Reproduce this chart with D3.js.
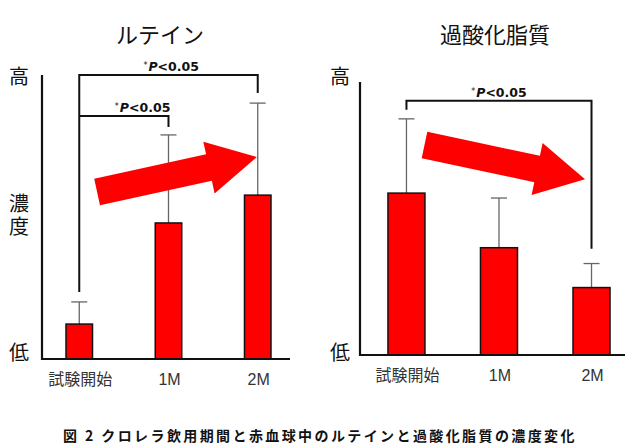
<!DOCTYPE html>
<html>
<head>
<meta charset="utf-8">
<script src="https://cdn.jsdelivr.net/npm/d3@7"></script>
<style>
  body { margin: 0; background: #fff; }
  text { font-family: "Noto Sans CJK JP", "Noto Sans", sans-serif; }
</style>
</head>
<body>
<div id="chart"></div>
<script>
// categories on the x axis (same for both panels)
const categories = ["試験開始", "1M", "2M"];

// relative concentration (0 = 低, 100 = 高)
const luteinValues = [12.3, 47.9, 57.7];
const luteinErrTop = [20.1, 78.9, 90.1];
const peroxValues = [59.3, 39.3, 24.7];
const peroxErrTop = [86.5, 57.5, 33.5];

// significance brackets: from / to category index, level, leg ends
const luteinBrackets = [
    {from: 0, to: 2, level: 100, legFrom: 23.6, legTo: 93.7, labelAt: 1.03},
    {from: 0, to: 1, level: 85.6, legFrom: 85.6, legTo: 81.7, labelAt: 0.71}
];
const peroxBrackets = [
    {from: 0, to: 2, level: 93.1, legFrom: 89.8, legTo: 38.9, labelAt: 1.0}
];

// trend arrows, in (category index, value)
const luteinArrow = {x0: 0.2, y0: 58.8, x1: 1.99, y1: 71.1};
const peroxArrow = {x0: 0.195, y0: 76.9, x1: 1.93, y1: 64.4};

const width = 630, height = 447;

const svg = d3.select("#chart").append("svg")
    .attr("width", width)
    .attr("height", height);

const panels = [
    {
        title: "ルテイン", titleX: 160,
        values: luteinValues, errTop: luteinErrTop, brackets: luteinBrackets, arrow: luteinArrow,
        x0: 42, x1: 290, yBase: 359, yTop: 75,
        paddingInner: 0.703, paddingOuter: 0.241, align: 0.558,
        yLabels: [{t: "高", y: 78}, {t: "濃度", y: 216}, {t: "低", y: 354}],
        yLabelX: 19
    },
    {
        title: "過酸化脂質", titleX: 495,
        values: peroxValues, errTop: peroxErrTop, brackets: peroxBrackets, arrow: peroxArrow,
        x0: 360, x1: 625, yBase: 355, yTop: 82,
        paddingInner: 0.6, paddingOuter: 0.232, align: 0.651,
        yLabels: [{t: "高", y: 78}, {t: "低", y: 354}],
        yLabelX: 340
    }
];

// arrow polygon from tail to tip
function arrowPoints(ax, ay, bx, by, shaft, headW, headL) {
    let dx = bx - ax, dy = by - ay;
    let len = Math.sqrt(dx * dx + dy * dy);
    let ux = dx / len, uy = dy / len;
    let nx = -uy, ny = ux;
    let hx = bx - ux * headL, hy = by - uy * headL;
    let p = [
        [ax + nx * shaft / 2, ay + ny * shaft / 2],
        [hx + nx * shaft / 2, hy + ny * shaft / 2],
        [hx + nx * headW / 2, hy + ny * headW / 2],
        [bx, by],
        [hx - nx * headW / 2, hy - ny * headW / 2],
        [hx - nx * shaft / 2, hy - ny * shaft / 2],
        [ax - nx * shaft / 2, ay - ny * shaft / 2]
    ];
    return p.map(d => d.join(",")).join(" ");
}

panels.forEach(p => {
    let g = svg.append("g");

    let x = d3.scaleBand()
        .domain(categories)
        .range([p.x0, p.x1])
        .paddingInner(p.paddingInner)
        .paddingOuter(p.paddingOuter)
        .align(p.align);
    let y = d3.scaleLinear()
        .domain([0, 100])
        .range([p.yBase, p.yTop]);
    // category index -> centre of the band
    let xi = d3.scaleLinear()
        .domain([0, categories.length - 1])
        .range([x(categories[0]) + x.bandwidth() / 2,
                x(categories[categories.length - 1]) + x.bandwidth() / 2]);

    // title
    g.append("text")
        .attr("x", p.titleX)
        .attr("y", 33)
        .attr("text-anchor", "middle")
        .attr("dominant-baseline", "central")
        .style("font-size", "22px")
        .attr("fill", "#111")
        .text(p.title);

    // error bars (drawn under bars)
    let err = g.append("g").attr("class", "errors");
    p.values.forEach((v, i) => {
        let cx = xi(i);
        err.append("line")
            .attr("x1", cx).attr("x2", cx)
            .attr("y1", y(v)).attr("y2", y(p.errTop[i]))
            .attr("stroke", "#666").attr("stroke-width", 1.3);
        err.append("line")
            .attr("x1", cx - 8).attr("x2", cx + 8)
            .attr("y1", y(p.errTop[i])).attr("y2", y(p.errTop[i]))
            .attr("stroke", "#666").attr("stroke-width", 1.3);
    });

    // bars
    g.selectAll("rect.bar")
        .data(p.values)
        .join("rect")
        .attr("class", "bar")
        .attr("x", (d, i) => x(categories[i]))
        .attr("width", x.bandwidth())
        .attr("y", d => y(d))
        .attr("height", d => y(0) - y(d))
        .attr("fill", "#ff0000")
        .attr("stroke", "#111")
        .attr("stroke-width", 1.5);

    // brackets
    p.brackets.forEach(b => {
        let pts = [[xi(b.from), y(b.legFrom)], [xi(b.from), y(b.level)],
                   [xi(b.to), y(b.level)], [xi(b.to), y(b.legTo)]];
        g.append("path")
            .attr("d", d3.line()(pts))
            .attr("fill", "none")
            .attr("stroke", "#111")
            .attr("stroke-width", 2);
        let t = g.append("text")
            .attr("x", xi(b.labelAt))
            .attr("y", y(b.level) - 4)
            .attr("text-anchor", "middle")
            .style("font-family", "'DejaVu Sans', sans-serif")
            .style("font-size", "12.5px")
            .style("font-weight", "bold")
            .attr("fill", "#111");
        t.append("tspan").text("*")
            .style("font-size", "8px")
            .style("font-weight", "normal")
            .attr("dy", -3);
        t.append("tspan").text("P")
            .style("font-style", "italic")
            .attr("dx", 1)
            .attr("dy", 3);
        t.append("tspan").text("<0.05");
    });

    // arrow
    let a = p.arrow;
    g.append("polygon")
        .attr("points", arrowPoints(xi(a.x0), y(a.y0), xi(a.x1), y(a.y1), 27, 53, 49))
        .attr("fill", "#ff0000");

    // axes
    g.append("line")
        .attr("x1", p.x0).attr("x2", p.x0)
        .attr("y1", p.yTop).attr("y2", p.yBase + 1)
        .attr("stroke", "#111").attr("stroke-width", 2.2);
    g.append("line")
        .attr("x1", p.x0 - 1).attr("x2", p.x1)
        .attr("y1", p.yBase).attr("y2", p.yBase)
        .attr("stroke", "#111").attr("stroke-width", 2.2);

    // x labels
    g.selectAll("text.xlab")
        .data(categories)
        .join("text")
        .attr("class", "xlab")
        .attr("x", d => x(d) + x.bandwidth() / 2 + 1)
        .attr("y", p.yBase + 20)
        .attr("text-anchor", "middle")
        .attr("dominant-baseline", "central")
        .style("font-family", "'Liberation Sans', 'Noto Sans CJK JP', sans-serif")
        .style("font-size", "16px")
        .attr("fill", "#333")
        .text(d => d);

    // y labels (vertical writing so 濃度 stacks)
    g.selectAll("text.ylab")
        .data(p.yLabels)
        .join("text")
        .attr("class", "ylab")
        .attr("x", p.yLabelX)
        .attr("y", d => d.y)
        .attr("text-anchor", "middle")
        .style("writing-mode", "vertical-rl")
        .style("letter-spacing", "3px")
        .style("font-size", "20px")
        .attr("fill", "#111")
        .text(d => d.t);
});

// caption
svg.append("text")
    .attr("x", 320)
    .attr("y", 435)
    .attr("text-anchor", "middle")
    .attr("dominant-baseline", "central")
    .style("font-size", "14px")
    .style("font-weight", "bold")
    .style("letter-spacing", "2.4px")
    .attr("fill", "#111")
    .text("図 2 クロレラ飲用期間と赤血球中のルテインと過酸化脂質の濃度変化");
</script>
</body>
</html>
